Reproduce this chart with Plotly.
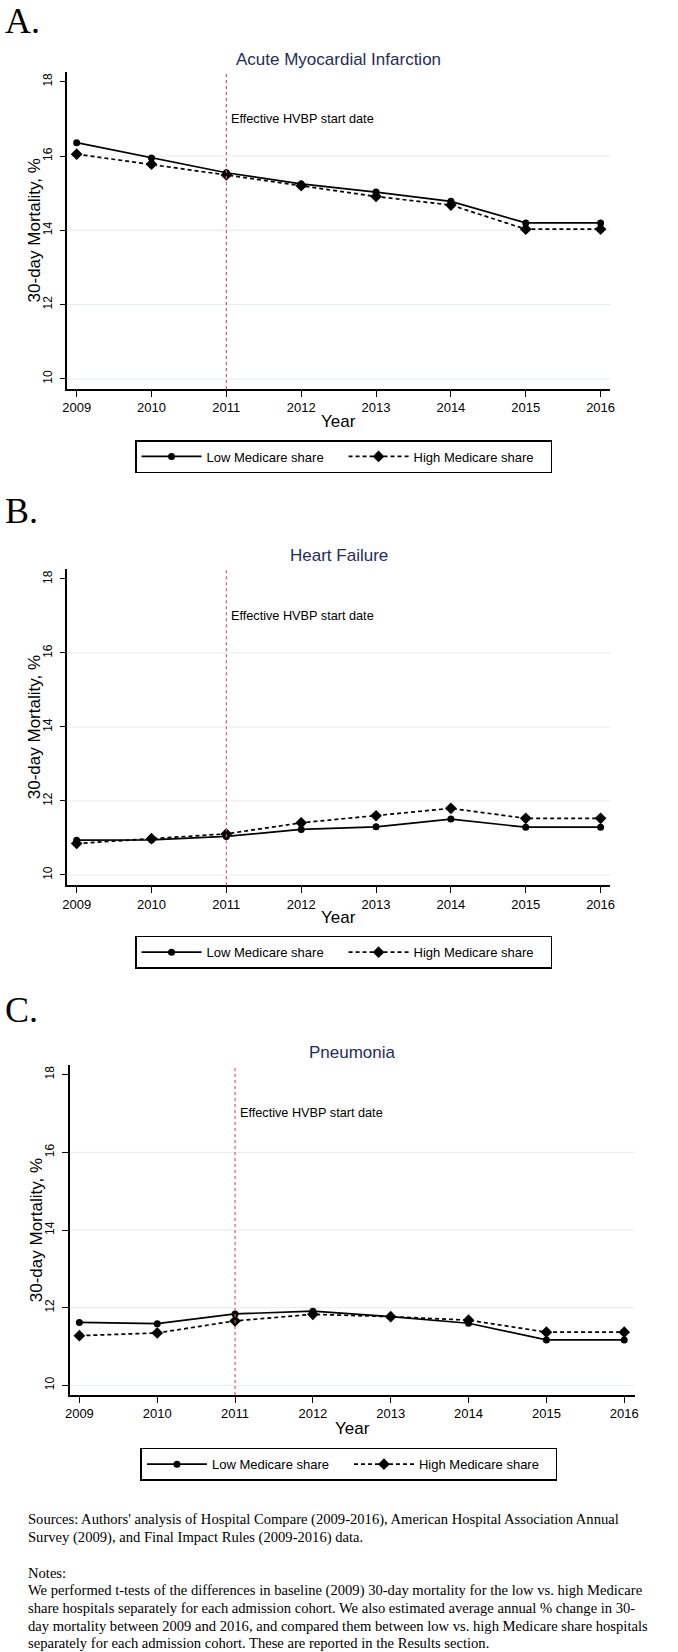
import plotly.graph_objects as go

W, H = 678, 1652

years = [2009, 2010, 2011, 2012, 2013, 2014, 2015, 2016]
year_labels = [str(y) for y in years]
y_ticks = [10, 12, 14, 16, 18]
grid_vals = [10, 12, 14, 16]

ami_low = [16.36, 15.95, 15.55, 15.25, 15.03, 14.78, 14.20, 14.20]
ami_high = [16.05, 15.78, 15.49, 15.20, 14.91, 14.68, 14.03, 14.03]

hf_low = [10.94, 10.95, 11.04, 11.23, 11.30, 11.51, 11.29, 11.29]
hf_high = [10.85, 10.98, 11.11, 11.41, 11.60, 11.80, 11.53, 11.53]

pn_low = [11.62, 11.59, 11.84, 11.91, 11.77, 11.60, 11.17, 11.17]
pn_high = [11.28, 11.35, 11.66, 11.83, 11.77, 11.68, 11.37, 11.37]

titles = ["Acute Myocardial Infarction", "Heart Failure", "Pneumonia"]
letters = ["A.", "B.", "C."]
series_names = ["Low Medicare share", "High Medicare share"]
policy_year = 2011
policy_label = "Effective HVBP start date"
policy_label_y = 17
y_title = "30-day Mortality, %"
x_title = "Year"

notes_lines = [
    "Sources: Authors' analysis of Hospital Compare (2009-2016), American Hospital Association Annual",
    "Survey (2009), and Final Impact Rules (2009-2016) data.",
    "Notes:",
    "We performed t-tests of the differences in baseline (2009) 30-day mortality for the low vs. high Medicare",
    "share hospitals separately for each admission cohort. We also estimated average annual % change in 30-",
    "day mortality between 2009 and 2016, and compared them between low vs. high Medicare share hospitals",
    "separately for each admission cohort. These are reported in the Results section.",
]
notes_y = [1519.3, 1537.3, 1572.7, 1590.7, 1608.3, 1626.0, 1643.3]

SANS = "Liberation Sans, Arial, sans-serif"
SERIF = "Liberation Serif, Times New Roman, serif"
NAVY = "#1f2d5c"


def fx(px):
    return px / W


def fy(py):
    return 1 - py / H


# panel layout in pixels: (x_left, x_right, y_top, y_bottom)
panels = [
    dict(box=(63.3, 614.3, 71.7, 389.0), xr=[2008.876, 2016.129], yr=[9.728, 18.27],
         letter_y=16.5, title_y=59.3, xt_y=421.0, yt_x=29.5,
         leg=(132.0, 440.0), low=ami_low, high=ami_high),
    dict(box=(63.3, 614.3, 569.0, 885.3), xr=[2008.876, 2016.129], yr=[9.72, 18.27],
         letter_y=507.5, title_y=555.5, xt_y=917.6, yt_x=29.5,
         leg=(132.0, 935.7), low=hf_low, high=hf_high),
    dict(box=(65.7, 639.0, 1065.0, 1395.0), xr=[2008.876, 2016.133], yr=[9.753, 18.247],
         letter_y=1006.5, title_y=1052.3, xt_y=1428.3, yt_x=31.7,
         leg=(137.5, 1447.7), low=pn_low, high=pn_high),
]

fig = go.Figure()
annotations = []
shapes = []
layout_axes = {}

for i, p in enumerate(panels):
    n = "" if i == 0 else str(i + 1)
    xa, ya = "x" + n, "y" + n
    leg = "legend" + n
    xl, xrgt, yt, yb = p["box"]

    fig.add_trace(go.Scatter(
        x=years, y=p["low"], xaxis=xa, yaxis=ya, name=series_names[0], legend=leg,
        mode="lines+markers", line=dict(color="black", width=1.7),
        marker=dict(symbol="circle", size=7, color="black")))
    fig.add_trace(go.Scatter(
        x=years, y=p["high"], xaxis=xa, yaxis=ya, name=series_names[1], legend=leg,
        mode="lines+markers", line=dict(color="black", width=1.7, dash="4px,3px"),
        marker=dict(symbol="diamond", size=9, color="black")))

    layout_axes["xaxis" + n] = dict(
        domain=[fx(xl), fx(xrgt)], anchor=ya, range=p["xr"],
        tickvals=years, ticktext=year_labels, showgrid=False, zeroline=False,
        showline=True, linecolor="black", linewidth=1.5,
        ticks="outside", ticklen=6, tickwidth=1.3, tickcolor="black",
        tickfont=dict(family=SANS, size=13, color="black"))
    layout_axes["yaxis" + n] = dict(
        domain=[fy(yb), fy(yt)], anchor=xa, range=p["yr"],
        tickvals=y_ticks, ticktext=[str(v) for v in y_ticks], tickangle=-90,
        showgrid=False, zeroline=False,
        showline=True, linecolor="black", linewidth=1.5,
        ticks="outside", ticklen=6, tickwidth=1.3, tickcolor="black",
        ticklabelstandoff=3,
        tickfont=dict(family=SANS, size=12, color="black"))

    layout_axes[leg] = dict(
        orientation="h", x=fx(p["leg"][0]), xanchor="left", y=fy(p["leg"][1]), yanchor="top",
        bgcolor="white", bordercolor="black", borderwidth=1.5,
        font=dict(family=SANS, size=13, color="black"),
        entrywidth=132, entrywidthmode="pixels", itemwidth=60, tracegroupgap=0)

    for g in grid_vals:
        shapes.append(dict(type="line", xref=xa + " domain", x0=0, x1=1, yref=ya, y0=g, y1=g,
                           line=dict(color="#e4ecf0", width=1), layer="below"))
    shapes.append(dict(type="line", xref=xa, x0=policy_year, x1=policy_year,
                       yref=ya + " domain", y0=0, y1=1,
                       line=dict(color="#e0566e", width=1.2, dash="dot"), layer="above"))

    annotations.append(dict(xref=xa, yref=ya, x=policy_year, y=policy_label_y, xshift=3,
                            text=policy_label, showarrow=False, xanchor="left", yanchor="middle",
                            font=dict(family=SANS, size=12.7, color="black")))
    annotations.append(dict(xref="paper", yref="paper", x=fx((xl + xrgt) / 2), y=fy(p["title_y"]),
                            text=titles[i], showarrow=False, xanchor="center", yanchor="middle",
                            font=dict(family=SANS, size=17, color=NAVY)))
    annotations.append(dict(xref="paper", yref="paper", x=0, y=fy(p["letter_y"]),
                            text=letters[i], showarrow=False, xanchor="left", yanchor="middle",
                            xshift=-2, yshift=-4, font=dict(family=SERIF, size=36, color="black")))
    annotations.append(dict(xref="paper", yref="paper", x=fx((xl + xrgt) / 2), y=fy(p["xt_y"]),
                            text=x_title, showarrow=False, xanchor="center", yanchor="middle",
                            font=dict(family=SANS, size=17, color="black")))
    annotations.append(dict(xref="paper", yref="paper", x=fx(p["yt_x"]), y=fy((yt + yb) / 2),
                            text=y_title, showarrow=False, xanchor="center", yanchor="middle",
                            textangle=-90, font=dict(family=SANS, size=17, color="black")))

for line, yy in zip(notes_lines, notes_y):
    annotations.append(dict(xref="paper", yref="paper", x=fx(21.6), y=fy(yy), text=line,
                            showarrow=False, xanchor="left", yanchor="middle",
                            font=dict(family=SERIF, size=14.6, color="black")))

fig.update_layout(
    width=W, height=H, margin=dict(l=0, r=0, t=0, b=0),
    paper_bgcolor="white", plot_bgcolor="white",
    annotations=annotations, shapes=shapes, **layout_axes)

fig.write_html("out.html", config={"displayModeBar": False},
               post_script="document.body.style.margin='0';document.body.style.padding='0';")
